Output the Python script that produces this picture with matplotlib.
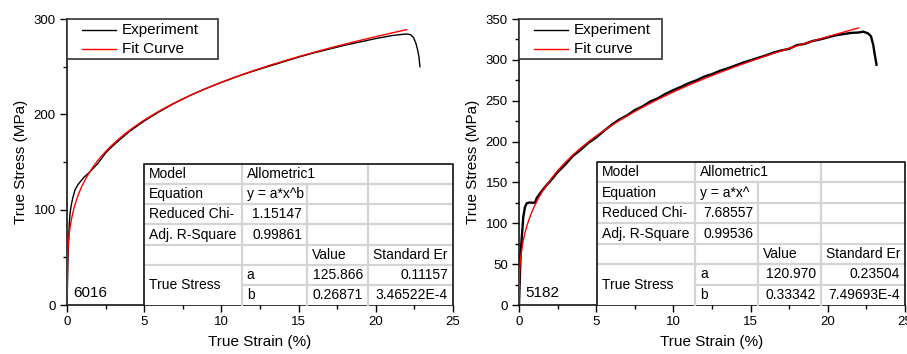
import numpy as np
import matplotlib
matplotlib.use("Agg")
import matplotlib.pyplot as plt
from matplotlib.patches import Rectangle
from matplotlib.ticker import MultipleLocator

plt.rcParams["font.family"] = ["Liberation Sans", "DejaVu Sans"]

# ---- alloy 6016: measured true stress-strain curve
strain_6016 = [0, 0.05, 0.1, 0.15, 0.2, 0.3, 0.4, 0.52, 0.7, 0.84, 1.1, 1.5, 2.0,
               2.5, 3, 4, 5, 6, 7, 8, 9, 10, 11, 12, 13, 14, 15, 16, 17, 18, 19,
               20, 21, 21.5, 22.0, 22.25, 22.45, 22.6, 22.72, 22.8, 22.86]
stress_6016 = [0, 40, 68, 86, 97, 107, 114, 121, 126, 129, 134, 140, 148.5,
               159.5, 167.5, 181.5, 193, 203, 212, 220, 227, 233.5, 239.5, 245, 250,
               255, 260, 264.5, 268.5, 272.5, 276, 279.5, 282.5, 283.5, 284.3, 283.6,
               280.5, 274.5, 267, 260, 250]
fit_6016 = dict(a=125.866, b=0.26871, a_err=0.11157, b_err=3.46522e-4,
                chi2=1.15147, r2=0.99861)

# ---- alloy 5182: measured curve (yield plateau + serrated flow)
strain_5182 = [0, 0.05, 0.1, 0.17, 0.28, 0.39, 0.5, 0.7, 0.9, 1.05, 1.15, 1.3, 1.5,
               1.8, 2, 2.5, 3, 3.5, 4, 4.5, 5, 5.5, 6, 6.5, 7, 7.5, 8, 8.5, 9, 9.5,
               10, 10.5, 11, 11.5, 12, 12.5, 13, 13.5, 14, 14.5, 15, 15.5, 16, 16.5,
               17, 17.5, 18, 18.5, 19, 19.5, 20, 20.5, 21, 21.5, 22, 22.3, 22.6,
               22.8, 22.95, 23.05, 23.16]
stress_5182 = [0, 30, 60, 80, 108, 120, 124.5, 125.5, 125, 125.5, 131, 135, 140,
               147, 151, 162.5, 172, 182.5, 190, 198.5, 205, 213, 220.5, 227, 232,
               238.5, 243, 249, 253, 258.5, 263, 267, 271.5, 275, 279.5, 282.5,
               286.5, 289.5, 293, 296.5, 299.5, 302.5, 305.5, 309, 311.5, 313.5, 318,
               319.5, 323, 325, 327.5, 330, 331.5, 333, 333.5, 334.5, 332.5, 329,
               318, 306, 294]
fit_5182 = dict(a=120.970, b=0.33342, a_err=0.23504, b_err=7.49693e-4,
                chi2=7.68557, r2=0.99536)

FIT_END = 22.0
TABLE_FS = 10
GRID_GRAY = "#d4d4d4"


def fit_table(ax, fit, equation, col_edges, top):
    """Origin-style fit report drawn in the lower right of the axes."""
    nrows = 7
    rh = top / nrows
    rows_y = [top - i * rh for i in range(nrows + 1)]
    x0, x1, x2, x3, x4 = col_edges
    tr = ax.transAxes
    kw = dict(transform=tr, color=GRID_GRAY, lw=1.6, clip_on=False, zorder=5)
    # interior horizontal rules
    for i in range(1, 6):
        ax.plot([x0, x4], [rows_y[i], rows_y[i]], **kw)
    ax.plot([x1, x4], [rows_y[6], rows_y[6]], **kw)
    # interior vertical rules
    ax.plot([x1, x1], [0, top], **kw)
    ax.plot([x2, x2], [0, rows_y[1]], **kw)
    ax.plot([x3, x3], [0, top], **kw)
    ax.add_patch(Rectangle((x0, 0), x4 - x0, top, transform=tr, fill=True,
                           facecolor="white", edgecolor="none", zorder=4,
                           clip_on=False))
    bk = dict(transform=tr, color="#222222", lw=1.3, clip_on=False, zorder=6)
    ax.plot([x0, x0, x4, x4], [0, top, top, 0], **bk)

    pad = 0.013

    def cell(txt, col, row, right=False, row_span=1):
        yc = rows_y[row] - rh * row_span / 2
        if right:
            ax.text(col_edges[col + 1] - pad, yc, txt, transform=tr, ha="right",
                    va="center", fontsize=TABLE_FS, zorder=7)
        else:
            ax.text(col_edges[col] + pad, yc, txt, transform=tr, ha="left",
                    va="center", fontsize=TABLE_FS, zorder=7)

    cell("Model", 0, 0)
    cell("Allometric1", 1, 0)
    cell("Equation", 0, 1)
    cell(equation, 1, 1)
    cell("Reduced Chi-", 0, 2)
    cell(f"{fit['chi2']:.5f}", 1, 2, right=True)
    cell("Adj. R-Square", 0, 3)
    cell(f"{fit['r2']:.5f}", 1, 3, right=True)
    cell("Value", 2, 4)
    cell("Standard Er", 3, 4)
    cell("True Stress", 0, 5, row_span=2)
    cell("a", 1, 5)
    cell("b", 1, 6)
    cell(f"{fit['a']:.3f}", 2, 5, right=True)
    cell(f"{fit['b']:.5f}", 2, 6, right=True)
    cell(f"{fit['a_err']:.5f}", 3, 5, right=True)
    cell(f"{fit['b_err']:.5E}".replace("E-0", "E-"), 3, 6, right=True)


def key_box(ax, labels, colors, width):
    tr = ax.transAxes
    ax.add_patch(Rectangle((0, 0.859), width, 0.141, transform=tr,
                           facecolor="white", edgecolor="#333333", lw=1.2,
                           zorder=8, clip_on=False))
    for lab, col, y in zip(labels, colors, [0.9615, 0.895]):
        ax.plot([0.04, 0.128], [y, y], color=col, lw=1.0, transform=tr, zorder=9)
        ax.text(0.142, y, lab, transform=tr, fontsize=11, va="center", zorder=9)


def panel(ax, strain, stress, fit, ymax, ymaj, ymin, name, fit_label, eq,
          cols, top, key_w, exp_lw):
    x_fit = np.linspace(0, FIT_END, 500)
    ax.plot(strain, stress, color="black", lw=exp_lw, zorder=2)
    ax.plot(x_fit, fit["a"] * x_fit ** fit["b"], color="red", lw=1.0, zorder=3)
    ax.set_xlim(0, 25)
    ax.set_ylim(0, ymax)
    ax.xaxis.set_major_locator(MultipleLocator(5))
    ax.xaxis.set_minor_locator(MultipleLocator(2.5))
    ax.yaxis.set_major_locator(MultipleLocator(ymaj))
    ax.yaxis.set_minor_locator(MultipleLocator(ymin))
    ax.tick_params(which="major", direction="out", length=5, width=1,
                   labelsize=9.5, pad=3)
    ax.tick_params(which="minor", direction="out", length=3, width=1)
    for s in ("top", "right"):
        ax.spines[s].set_visible(False)
    for s in ("left", "bottom"):
        ax.spines[s].set_linewidth(1.1)
    ax.set_xlabel("True Strain (%)", fontsize=11)
    ax.set_ylabel("True Stress (MPa)", fontsize=11)
    ax.xaxis.set_label_coords(0.5, -0.105)
    ax.yaxis.set_label_coords(-0.10, 0.5)
    ax.text(cols[0] - 0.185, 0.043, name, transform=ax.transAxes, fontsize=11,
            va="center")
    fit_table(ax, fit, eq, cols, top)
    key_box(ax, ["Experiment", fit_label], ["black", "red"], key_w)


fig = plt.figure(figsize=(9.07, 3.54), dpi=100)
ax1 = fig.add_axes([0.0739, 0.1384, 0.4255, 0.8079])
ax2 = fig.add_axes([0.5722, 0.1384, 0.4255, 0.8079])

panel(ax1, strain_6016, stress_6016, fit_6016, 300, 100, 50, "6016",
      "Fit Curve", "y = a*x^b", [0.2, 0.453, 0.622, 0.78, 1.0], 0.493, 0.391, 1.0)
panel(ax2, strain_5182, stress_5182, fit_5182, 350, 50, 25, "5182",
      "Fit curve", "y = a*x^", [0.202, 0.456, 0.62, 0.782, 1.0], 0.5, 0.371, 1.7)

fig.savefig("out.png", dpi=100)
